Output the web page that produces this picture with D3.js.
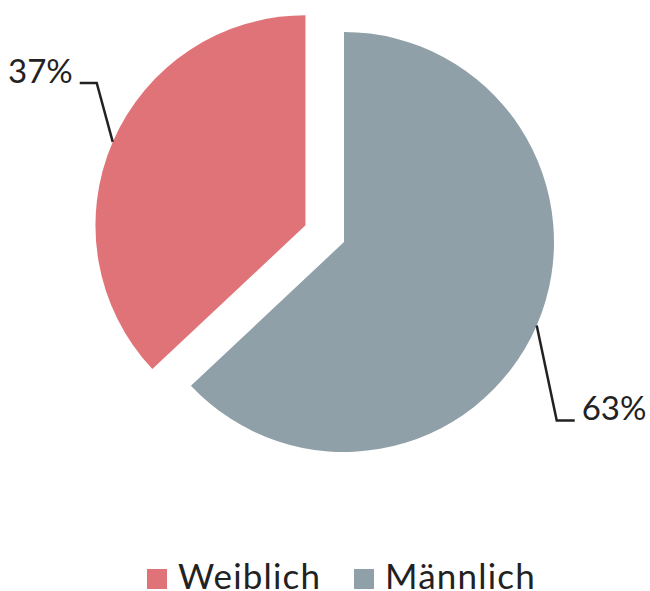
<!DOCTYPE html>
<html>
<head>
<meta charset="utf-8">
<script src="https://cdn.jsdelivr.net/npm/d3@7"></script>
<style>
  body { margin: 0; background: #fff; }
  text { font-family: Lato, "Open Sans", sans-serif; fill: #222; }
</style>
</head>
<body>
<div id="chart-container"></div>
<script>
// data
const categories = ["Männlich", "Weiblich"];
const values = [63, 37];
const labels = ["63%", "37%"];
const legendOrder = ["Weiblich", "Männlich"];
const colors = {"Männlich": "#90a0a8", "Weiblich": "#e07377"};

const width = 650, height = 591;
const cx = 344, cy = 242, radius = 210;
// which slice is pulled out, and by how much
const explode = {"Weiblich": 42};
// leader line elbow offsets from the slice edge midpoint
const elbow = {"Männlich": [20, 95], "Weiblich": [-16, -59]};

const svg = d3.select("#chart-container")
    .append("svg")
    .attr("width", width)
    .attr("height", height);

const pie = d3.pie().sort(null).value(d => d.value);
const arcs = pie(categories.map((c, i) => ({name: c, value: values[i], label: labels[i]})));
const arc = d3.arc().innerRadius(0).outerRadius(radius);

const g = svg.append("g").attr("transform", `translate(${cx},${cy})`);

function offset(d) {
    const a = (d.startAngle + d.endAngle) / 2;
    const e = explode[d.data.name] || 0;
    return [Math.sin(a) * e, -Math.cos(a) * e];
}

g.selectAll("path")
    .data(arcs)
    .join("path")
    .attr("d", arc)
    .attr("fill", d => colors[d.data.name])
    .attr("transform", d => `translate(${offset(d)})`);

// leader lines + labels
arcs.forEach(d => {
    const a = (d.startAngle + d.endAngle) / 2;
    const o = offset(d);
    const p0 = [o[0] + Math.sin(a) * radius, o[1] - Math.cos(a) * radius];
    const el = elbow[d.data.name];
    const p1 = [p0[0] + el[0], p0[1] + el[1]];
    const right = p1[0] > 0;
    const p2 = [p1[0] + (right ? 18 : -17), p1[1]];
    g.append("path")
        .attr("d", d3.line()([p0, p1, p2]))
        .attr("fill", "none")
        .attr("stroke", "#222")
        .attr("stroke-width", 2.5);
    g.append("text")
        .attr("x", p2[0] + (right ? 7 : -7))
        .attr("y", p2[1])
        .attr("text-anchor", right ? "start" : "end")
        .style("font-size", "33px")
        .text(d.data.label);
});

// legend
const legend = svg.append("g").attr("transform", "translate(147,0)");
const lx = d3.scaleOrdinal().domain(legendOrder).range([0, 207]);
const item = legend.selectAll("g")
    .data(legendOrder)
    .join("g")
    .attr("transform", d => `translate(${lx(d)},569)`);
item.append("rect")
    .attr("width", 20)
    .attr("height", 20)
    .attr("fill", d => colors[d]);
item.append("text")
    .attr("x", 31)
    .attr("y", 20)
    .style("font-size", "35px")
    .style("letter-spacing", "1.2px")
    .text(d => d);
</script>
</body>
</html>
